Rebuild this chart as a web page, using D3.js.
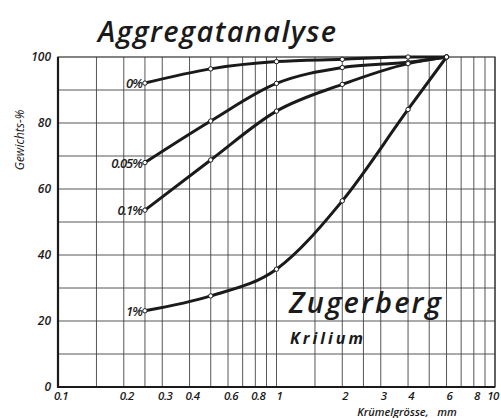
<!DOCTYPE html>
<html>
<head>
<meta charset="utf-8">
<script src="https://cdn.jsdelivr.net/npm/d3@7"></script>
<style>
  body { margin: 0; background: #fff; }
  svg text { font-family: "Open Sans", "DejaVu Sans", sans-serif; fill: #1a1a1a; }
</style>
</head>
<body>
<svg id="chart"></svg>
<script>
// crumb sizes (mm) where the samples were measured
const sizes = [0.25, 0.5, 1, 2, 4, 6];
// percent by weight for each Krilium dose
const series = ["0%", "0.05%", "0.1%", "1%"];
const values0 = [92.1, 96.4, 98.6, 99.3, 100, 100];
const values005 = [68, 80.6, 92, 96.8, 98.4, 100];
const values01 = [53.6, 68.8, 83.6, 91.7, 98, 100];
const values1 = [23.1, 27.6, 35.7, 56.4, 84.1, 100];
const allValues = [values0, values005, values01, values1];

const xTickVals = [0.1, 0.2, 0.3, 0.4, 0.6, 0.8, 1, 2, 3, 4, 6, 8, 10];
const xTickLabels = ["0.1", "0.2", "0.3", "0.4", "0.6", "0.8", "1", "2", "3", "4", "6", "8", "10"];
const xGridVals = [0.1, 0.15, 0.2, 0.25, 0.3, 0.4, 0.5, 0.6, 0.7, 0.8, 0.9,
                   1, 1.5, 2, 2.5, 3, 4, 5, 6, 7, 8, 9, 10];
const yTickVals = [0, 20, 40, 60, 80, 100];
const yGridVals = [10, 20, 30, 40, 50, 60, 70, 80, 90];

const config = {
    width: 501,
    height: 418,
    margin: {top: 57, right: 6, bottom: 31, left: 58}
};

let svg = d3.select('#chart')
    .attr('width', config.width)
    .attr('height', config.height);

let innerW = config.width - config.margin.left - config.margin.right;
let innerH = config.height - config.margin.top - config.margin.bottom;

let chart = svg.append('g')
    .attr('transform', `translate(${config.margin.left},${config.margin.top})`);

let x = d3.scaleLog().domain([0.1, 10]).range([0, innerW]);
let y = d3.scaleLinear().domain([0, 100]).range([innerH, 0]);

// grid
chart.selectAll('.vgrid')
    .data(xGridVals)
    .enter()
    .append('line')
        .attr('x1', d => x(d)).attr('x2', d => x(d))
        .attr('y1', 0).attr('y2', innerH)
        .attr('stroke', '#444')
        .attr('stroke-width', 0.9);

chart.selectAll('.hgrid')
    .data(yGridVals)
    .enter()
    .append('line')
        .attr('x1', 0).attr('x2', innerW)
        .attr('y1', d => y(d)).attr('y2', d => y(d))
        .attr('stroke', '#444')
        .attr('stroke-width', 0.9);

// frame
chart.append('rect')
    .attr('width', innerW).attr('height', innerH)
    .attr('fill', 'none')
    .attr('stroke', '#333')
    .attr('stroke-width', 1.2);
chart.append('path')
    .attr('d', `M0,0V${innerH}H${innerW}`)
    .attr('fill', 'none')
    .attr('stroke', '#1a1a1a')
    .attr('stroke-width', 2.2);

// axes labels
chart.selectAll('.ytick')
    .data(yTickVals)
    .enter()
    .append('text')
        .attr('x', -7)
        .attr('y', d => y(d) + 4)
        .attr('text-anchor', 'end')
        .style('font-size', '12px')
        .style('font-style', 'italic')
        .style('font-weight', 600)
        .text(d => d);

chart.selectAll('.xtick')
    .data(xTickVals)
    .enter()
    .append('text')
        .attr('x', (d, i) => x(d) + (i === xTickVals.length - 1 ? -2 : 3))
        .attr('y', innerH + 13)
        .attr('text-anchor', 'middle')
        .attr('letter-spacing', -0.5)
        .style('font-size', '11.5px')
        .style('font-style', 'italic')
        .style('font-weight', 600)
        .text((d, i) => xTickLabels[i]);

svg.append('text')
    .attr('x', 407)
    .attr('y', 416)
    .attr('text-anchor', 'middle')
    .style('font-size', '11px')
    .style('font-style', 'italic')
    .style('font-weight', 600)
    .attr('xml:space', 'preserve')
    .text('Krümelgrösse,   mm');

svg.append('text')
    .attr('transform', 'translate(24,140) rotate(-90)')
    .attr('text-anchor', 'middle')
    .style('font-size', '12px')
    .style('font-style', 'italic')
    .text('Gewichts-%');

// title & annotations
svg.append('text')
    .attr('x', 98)
    .attr('y', 42)
    .attr('textLength', 238)
    .style('font-size', '29px')
    .style('font-style', 'italic')
    .style('font-weight', 600)
    .text('Aggregatanalyse');

svg.append('text')
    .attr('x', 289)
    .attr('y', 313)
    .attr('textLength', 152)
    .style('font-size', '29px')
    .style('font-style', 'italic')
    .style('font-weight', 600)
    .text('Zugerberg');

svg.append('text')
    .attr('x', 290)
    .attr('y', 344)
    .attr('textLength', 73)
    .style('font-size', '16px')
    .style('font-style', 'italic')
    .style('font-weight', 'bold')
    .text('Krilium');

// curves
let line = d3.line()
    .x((d, i) => x(sizes[i]))
    .y(d => y(d))
    .curve(d3.curveMonotoneX);

allValues.forEach((vals, k) => {
    chart.append('path')
        .datum(vals)
        .attr('d', line)
        .attr('fill', 'none')
        .attr('stroke', '#1a1a1a')
        .attr('stroke-width', 3);

    chart.selectAll('.pt' + k)
        .data(vals)
        .enter()
        .append('circle')
            .attr('cx', (d, i) => x(sizes[i]))
            .attr('cy', d => y(d))
            .attr('r', 2.2)
            .attr('fill', '#fff')
            .attr('stroke', '#1a1a1a')
            .attr('stroke-width', 1);

    chart.append('text')
        .attr('x', x(sizes[0]) - 3)
        .attr('y', y(vals[0]) + 5)
        .attr('text-anchor', 'end')
        .attr('letter-spacing', -1)
        .style('font-size', '13px')
        .style('font-style', 'italic')
        .style('font-weight', 600)
        .text(series[k]);
});
</script>
</body>
</html>
